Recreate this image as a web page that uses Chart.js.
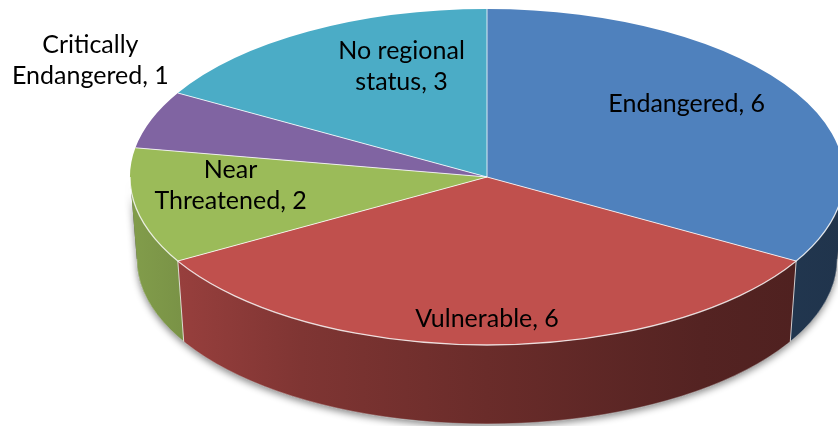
<!DOCTYPE html>
<html>
<head>
<meta charset="utf-8">
<script src="https://cdn.jsdelivr.net/npm/chart.js@4.4.1/dist/chart.umd.min.js"></script>
<style>
  html, body { margin: 0; padding: 0; background: #ffffff; }
  #wrap { width: 838px; height: 426px; position: relative; }
</style>
</head>
<body>
<div id="wrap"><canvas id="c" width="838" height="426"></canvas></div>
<script>
// ---- data ----
const categories = ['Endangered', 'Vulnerable', 'Near Threatened', 'Critically Endangered', 'No regional status'];
const counts = [6, 6, 2, 1, 3];
const colors = ['#4F81BD', '#C0504D', '#9BBB59', '#8064A2', '#4BACC6'];

// ---- label placement (radius fraction, angular nudge in degrees) ----
const labelRadius = [0.71, 0.845, 0.72, 1.31, 0.70];
const labelTurn = [-8, 0, 6, 12, 10];

// ---- styling ----
const SX = 357 / 168;       // horizontal stretch of the tilted pie
const DEPTH = 82;           // wall thickness
const BOTTOM_SHRINK_X = 0.981;
const BOTTOM_SHRINK_Y = 0.982;
const FONT = '25px Lato';
const LINE_H = 31;
const WRAP_W = 180;
const shadeStops = [[0, 0.84], [0.24, 0.66], [0.5, 0.55], [0.8, 0.44], [1, 0.40]];

function hexToRgb(h) {
  const n = parseInt(h.slice(1), 16);
  return [(n >> 16) & 255, (n >> 8) & 255, n & 255];
}
function shade(hex, f) {
  const [r, g, b] = hexToRgb(hex);
  return `rgb(${Math.round(r * f)},${Math.round(g * f)},${Math.round(b * f)})`;
}
function wrapText(ctx, text, maxW) {
  const words = text.split(' ');
  const lines = [];
  let cur = '';
  words.forEach(w => {
    const t = cur ? cur + ' ' + w : w;
    if (cur && ctx.measureText(t).width > maxW) { lines.push(cur); cur = w; }
    else cur = t;
  });
  if (cur) lines.push(cur);
  return lines;
}

const pie3d = {
  id: 'pie3d',
  beforeDatasetsDraw(chart) {
    const ctx = chart.ctx;
    const arcs = chart.getDatasetMeta(0).data;
    const cx = arcs[0].x, cy = arcs[0].y, r = arcs[0].outerRadius;
    const rx = r * SX, ry = r;
    const brx = rx * BOTTOM_SHRINK_X, bry = ry * BOTTOM_SHRINK_Y;
    const x0 = cx - rx, x1 = cx + rx;

    // shadow under the wall
    ctx.save();
    ctx.beginPath();
    ctx.ellipse(cx, cy, rx, ry, 0, 0, Math.PI, false);
    ctx.ellipse(cx, cy + DEPTH, brx, bry, 0, Math.PI, 0, true);
    ctx.closePath();
    ctx.shadowColor = 'rgba(0,0,0,0.45)';
    ctx.shadowBlur = 7;
    ctx.shadowOffsetY = 3;
    ctx.fillStyle = '#555';
    ctx.fill();
    ctx.restore();

    // walls
    arcs.forEach((arc, i) => {
      const a1 = Math.max(arc.startAngle, 0);
      const a2 = Math.min(arc.endAngle, Math.PI);
      if (a2 <= a1) return;
      const g = ctx.createLinearGradient(x0, 0, x1, 0);
      shadeStops.forEach(([p, f]) => g.addColorStop(p, shade(colors[i], f)));
      ctx.beginPath();
      ctx.ellipse(cx, cy, rx, ry, 0, a1, a2, false);
      ctx.ellipse(cx, cy + DEPTH, brx, bry, 0, a2, a1, true);
      ctx.closePath();
      ctx.fillStyle = g;
      ctx.fill();
    });

    // wall seams
    ctx.save();
    ctx.strokeStyle = 'rgba(255,255,255,0.75)';
    ctx.lineWidth = 1;
    arcs.forEach(arc => {
      const a = arc.startAngle;
      if (a > 0 && a < Math.PI) {
        ctx.beginPath();
        ctx.moveTo(cx + rx * Math.cos(a), cy + ry * Math.sin(a));
        ctx.lineTo(cx + brx * Math.cos(a), cy + DEPTH + bry * Math.sin(a));
        ctx.stroke();
      }
    });
    ctx.beginPath();
    ctx.ellipse(cx, cy + DEPTH, brx, bry, 0, 0, Math.PI, false);
    ctx.strokeStyle = 'rgba(255,255,255,0.35)';
    ctx.stroke();
    ctx.restore();

    // stretch the top face
    ctx.save();
    ctx.translate(cx, cy);
    ctx.scale(SX, 1);
    ctx.translate(-cx, -cy);
  },
  afterDatasetsDraw(chart) {
    const ctx = chart.ctx;
    ctx.restore();
    const arcs = chart.getDatasetMeta(0).data;
    const cx = arcs[0].x, cy = arcs[0].y, r = arcs[0].outerRadius;
    const rx = r * SX, ry = r;

    // top-face seams
    ctx.save();
    ctx.strokeStyle = 'rgba(255,255,255,0.8)';
    ctx.lineWidth = 1;
    arcs.forEach(arc => {
      const a = arc.startAngle;
      ctx.beginPath();
      ctx.moveTo(cx, cy);
      ctx.lineTo(cx + rx * Math.cos(a), cy + ry * Math.sin(a));
      ctx.stroke();
    });
    ctx.beginPath();
    ctx.ellipse(cx, cy, rx, ry, 0, 0, Math.PI, false);
    ctx.lineWidth = 1.3;
    ctx.stroke();
    ctx.restore();

    // data labels
    ctx.save();
    ctx.font = FONT;
    ctx.fillStyle = '#000000';
    ctx.textAlign = 'center';
    ctx.textBaseline = 'middle';
    arcs.forEach((arc, i) => {
      const mid = (arc.startAngle + arc.endAngle) / 2 + labelTurn[i] * Math.PI / 180;
      const lx = cx + labelRadius[i] * rx * Math.cos(mid);
      const ly = cy + labelRadius[i] * ry * Math.sin(mid);
      const lines = wrapText(ctx, `${categories[i]}, ${counts[i]}`, WRAP_W);
      const top = ly - (lines.length - 1) * LINE_H / 2;
      lines.forEach((ln, k) => ctx.fillText(ln, lx, top + k * LINE_H));
    });
    ctx.restore();
  }
};

new Chart(document.getElementById('c'), {
  type: 'pie',
  data: {
    labels: categories,
    datasets: [{
      data: counts,
      backgroundColor: colors,
      borderWidth: 0,
      radius: 168,
      clip: false
    }]
  },
  options: {
    responsive: false,
    animation: false,
    events: [],
    rotation: 0,
    layout: { padding: { left: 136, right: 0, top: 0, bottom: 72 } },
    plugins: { legend: { display: false }, tooltip: { enabled: false } }
  },
  plugins: [pie3d]
});
</script>
</body>
</html>
